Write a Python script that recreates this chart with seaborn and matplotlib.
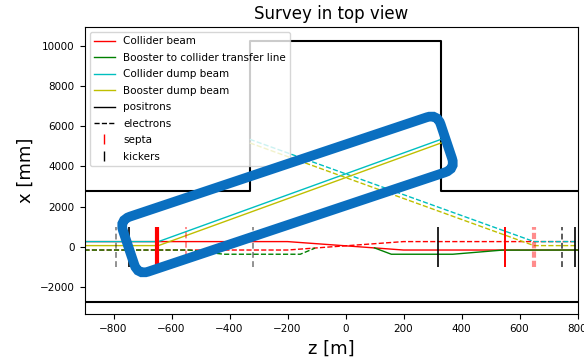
import matplotlib
matplotlib.use("Agg")
import numpy as np
import pandas as pd
import seaborn as sns
import matplotlib.pyplot as plt
from matplotlib.lines import Line2D
from matplotlib.patches import FancyBboxPatch
from matplotlib.transforms import Affine2D, ScaledTranslation

# ---------------- data (z in m, x in mm) ----------------
# Collider beam
coll_pos_z = [-900, -200, 200, 800]
coll_pos_x = [250, 250, -170, -170]
coll_ele_z = [-900, -200, 200, 800]
coll_ele_x = [-170, -170, 250, 250]

# Booster to collider transfer line
tl_pos_z = [100, 158, 370, 540, 800]
tl_pos_x = [-65, -380, -380, -175, -170]
tl_ele_z = [-900, -540, -420, -156, -105]
tl_ele_x = [-170, -170, -380, -380, -75]

# Collider dump beam
cd_pos_z = [-900, -645, 330]
cd_pos_x = [250, 250, 5350]
cd_ele_z = [-330, 650, 800]
cd_ele_x = [5350, 250, 250]

# Booster dump beam
bd_pos_z = [-900, -645, 330]
bd_pos_x = [50, 50, 5170]
bd_ele_z = [-330, 650, 800]
bd_ele_x = [5170, 50, 50]

# Tunnel / cavern outline
wall_top_z = [-900, -330, -330, 330, 330, 800]
wall_top_x = [2750, 2750, 10250, 10250, 2750, 2750]
wall_bot_z = [-900, 800]
wall_bot_x = [-2750, -2750]

# Septa and kickers (z position, x extent)
septa_pos_z = [-650, 550]
septa_pos_lo = [-1000, -1000]
septa_pos_hi = [1000, 1000]
septa_pos_lw = [3.0, 1.4]
septa_ele_z = [-550, 650]
septa_ele_lo = [-500, -1000]
septa_ele_hi = [1000, 1000]
septa_ele_lw = [1.4, 3.0]

kick_pos_z = [-745, 320, 790]
kick_ele_z = [-790, -320, 745]
kick_ele_alpha = [0.5, 0.5, 0.75]
kick_lo = -1000
kick_hi = 1000

legend_labels = ["Collider beam", "Booster to collider transfer line",
                 "Collider dump beam", "Booster dump beam",
                 "positrons", "electrons", "septa", "kickers"]

# ---------------- figure ----------------
fig = plt.figure(figsize=(5.84, 3.57), dpi=100)
ax = fig.add_axes([84.5 / 584, 1 - 314 / 357, (577.5 - 84.5) / 584, (314 - 27) / 357])


def line(z, x, **kw):
    df = pd.DataFrame({"z": z, "x": x})
    sns.lineplot(data=df, x="z", y="x", sort=False, estimator=None, ax=ax, **kw)


lw_beam = 1.0
line(wall_top_z, wall_top_x, color="black", lw=1.5)
line(wall_bot_z, wall_bot_x, color="black", lw=1.5)

line(coll_pos_z, coll_pos_x, color="r", lw=lw_beam)
line(coll_ele_z, coll_ele_x, color="r", lw=lw_beam, linestyle="--")
line(tl_pos_z, tl_pos_x, color="g", lw=lw_beam)
line(tl_ele_z, tl_ele_x, color="g", lw=lw_beam, linestyle="--")
line(cd_pos_z, cd_pos_x, color="c", lw=lw_beam)
line(cd_ele_z, cd_ele_x, color="c", lw=lw_beam, linestyle="--")
line(bd_pos_z, bd_pos_x, color="y", lw=lw_beam)
line(bd_ele_z, bd_ele_x, color="y", lw=lw_beam, linestyle="--")

for z, lo, hi, w in zip(septa_pos_z, septa_pos_lo, septa_pos_hi, septa_pos_lw):
    ax.vlines(z, lo, hi, color="red", lw=w)
for z, lo, hi, w in zip(septa_ele_z, septa_ele_lo, septa_ele_hi, septa_ele_lw):
    ax.vlines(z, lo, hi, color="red", lw=w, linestyles=[(0, (4.5 / w, 2.2 / w))], alpha=0.45)
for z in kick_pos_z:
    ax.vlines(z, kick_lo, kick_hi, color="black", lw=1.2)
for z, a in zip(kick_ele_z, kick_ele_alpha):
    ax.vlines(z, kick_lo, kick_hi, color="black", lw=1.2,
              linestyles=[(0, (3.5, 2))], alpha=a)

ax.set_xlim(-900, 800)
ax.set_ylim(-3360, 10950)
ax.set_xticks(np.arange(-800, 801, 200))
ax.set_yticks(np.arange(-2000, 10001, 2000))
ax.tick_params(labelsize=7.5, length=3.5, width=0.8)
ax.set_xlabel("z [m]", fontsize=13)
ax.set_ylabel("x [mm]", fontsize=13)
ax.set_title("Survey in top view", fontsize=12)

handles = [
    Line2D([], [], color="r", lw=1),
    Line2D([], [], color="g", lw=1),
    Line2D([], [], color="c", lw=1),
    Line2D([], [], color="y", lw=1),
    Line2D([], [], color="black", lw=1),
    Line2D([], [], color="black", lw=1, linestyle="--"),
    Line2D([], [], color="r", marker="|", linestyle="None", markersize=6.5),
    Line2D([], [], color="black", marker="|", linestyle="None", markersize=6.5),
]
ax.legend(handles, legend_labels, loc="upper left", fontsize=7.5, labelspacing=0.62)

# highlight box (rotated rounded rectangle, sized in pixels, anchored in data coords)
box_w, box_h, box_angle = 335, 58, 18.5
tr = Affine2D().rotate_deg(box_angle) + ScaledTranslation(-200, 2600, ax.transData)
box = FancyBboxPatch((-box_w / 2, -box_h / 2), box_w, box_h,
                     boxstyle="round,pad=0,rounding_size=11",
                     fill=False, edgecolor="#0a6fc0", lw=7, transform=tr,
                     clip_on=False, zorder=10)
fig.add_artist(box)

fig.savefig("out.png", dpi=100)
